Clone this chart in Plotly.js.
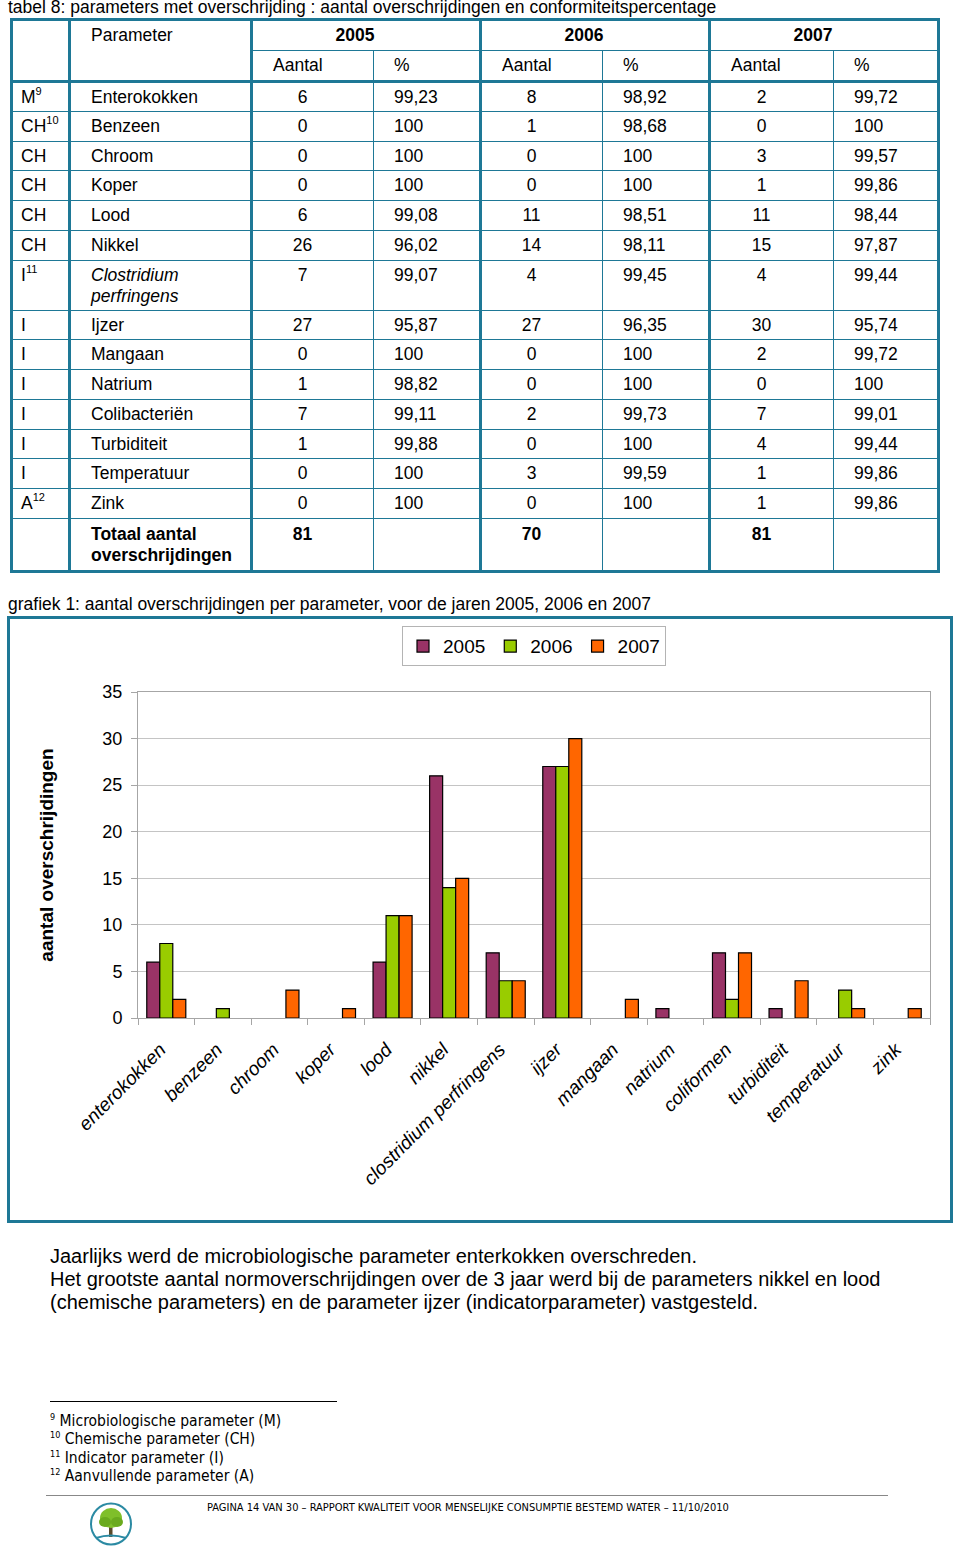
<!DOCTYPE html>
<html>
<head>
<meta charset="utf-8">
<script src="https://cdn.plot.ly/plotly-3.0.1.min.js"></script>
<style>
  html, body { margin:0; padding:0; background:#fff; }
  body { width:960px; height:1546px; position:relative; overflow:hidden; font-family:"Liberation Sans", Arial, sans-serif; color:#000; }
  .abs { position:absolute; white-space:nowrap; }
  #tbl { position:absolute; left:10px; top:18px; border-collapse:collapse; table-layout:fixed; font-size:17.5px; line-height:21px; }
  #tbl td { border:1.5px solid #1e7896; padding:4px 0 0 20px; vertical-align:top; overflow:hidden; white-space:nowrap; }
  #tbl td.num { text-align:center; padding-left:0; padding-right:21px; }
  #tbl td.yr { text-align:center; padding-left:0; padding-right:22px; font-weight:bold; }
  #tbl td.c0 { padding-left:8px; }
  #tbl sup { font-size:11px; line-height:0; position:relative; top:-1px; }
  #chartbox { position:absolute; left:7px; top:616px; width:940px; height:601px; border:3px solid #1e7896; }
  .narrow { font-family:"Liberation Sans Narrow","DejaVu Sans Condensed","Arial Narrow",sans-serif; }
  #fn span.sp { font-size:9px; position:relative; top:-6px; line-height:0; }
</style>
</head>
<body>
<div class="abs" style="left:8px; top:-3px; font-size:17.5px;">tabel 8: parameters met overschrijding : aantal overschrijdingen en conformiteitspercentage</div>
<table id="tbl"></table>

<div class="abs" style="left:8px; top:594px; font-size:17.5px;">grafiek 1: aantal overschrijdingen per parameter, voor de jaren 2005, 2006 en 2007</div>
<div id="chartbox"><div id="chart" style="width:940px;height:601px;"></div></div>

<div class="abs" style="left:50px; top:1245px; font-size:20px; line-height:23px;">Jaarlijks werd de microbiologische parameter enterkokken overschreden.<br>Het grootste aantal normoverschrijdingen over de 3 jaar werd bij de parameters nikkel en lood<br>(chemische parameters) en de parameter ijzer (indicatorparameter) vastgesteld.</div>

<div class="abs" style="left:50px; top:1401px; width:287px; height:0; border-top:1px solid #000;"></div>
<div class="abs narrow" id="fn" style="left:50px; top:1412px; font-size:15.5px; line-height:18.4px;"></div>

<div class="abs" style="left:46px; top:1495px; width:842px; height:0; border-top:1.5px solid #888;"></div>
<div class="abs narrow" style="left:207px; top:1501px; font-size:11px;">PAGINA 14 VAN 30 – RAPPORT KWALITEIT VOOR MENSELIJKE CONSUMPTIE BESTEMD WATER – 11/10/2010</div>
<svg class="abs" style="left:88px; top:1502px;" width="46" height="44" viewBox="0 0 46 44">
  <ellipse cx="23" cy="22" rx="20" ry="20.5" fill="#fff" stroke="#2b8aa3" stroke-width="2"/>
  <rect x="21" y="22" width="3.5" height="13" fill="#5a4a2a"/>
  <ellipse cx="23" cy="16" rx="11" ry="10" fill="#7fbf2a"/>
  <ellipse cx="17" cy="20" rx="6" ry="5" fill="#6aaa1e"/>
  <ellipse cx="29" cy="20" rx="6" ry="5" fill="#6aaa1e"/>
  <path d="M8 36 Q23 31 38 36" stroke="#2b8aa3" stroke-width="2" fill="none"/>
</svg>

<script>
// ---------------- data ----------------
var typeCodes   = ["M","CH","CH","CH","CH","CH","I","I","I","I","I","I","I","A"];
var typeNotes   = ["9","10","","","","","11","","","","","","","12"];
var parameters  = ["Enterokokken","Benzeen","Chroom","Koper","Lood","Nikkel","Clostridium perfringens","Ijzer","Mangaan","Natrium","Colibacteriën","Turbiditeit","Temperatuur","Zink"];
var years       = ["2005","2006","2007"];
var count2005   = [6,0,0,0,6,26,7,27,0,1,7,1,0,0];
var count2006   = [8,1,0,0,11,14,4,27,0,0,2,0,3,0];
var count2007   = [2,0,3,1,11,15,4,30,2,0,7,4,1,1];
var pct2005     = ["99,23","100","100","100","99,08","96,02","99,07","95,87","100","98,82","99,11","99,88","100","100"];
var pct2006     = ["98,92","98,68","100","100","98,51","98,11","99,45","96,35","100","100","99,73","100","99,59","100"];
var pct2007     = ["99,72","100","99,57","99,86","98,44","97,87","99,44","95,74","99,72","100","99,01","99,44","99,86","99,86"];
var totals      = [81,70,81];
var chartCategories = ["enterokokken","benzeen","chroom","koper","lood","nikkel","clostridium perfringens","ijzer","mangaan","natrium","coliformen","turbiditeit","temperatuur","zink"];
var footnotes   = [["9","Microbiologische parameter (M)"],["10","Chemische parameter (CH)"],["11","Indicator parameter (I)"],["12","Aanvullende parameter (A)"]];

// ---------------- table ----------------
var TEAL = "#1e7896";
var colW = [58,182,122,107,122,107,124,105];
var thick = "3px solid " + TEAL;
var counts = [count2005, count2006, count2007];
var pcts = [pct2005, pct2006, pct2007];
var tbl = document.getElementById("tbl");
var html = "<colgroup>" + colW.map(function(w){return '<col style="width:'+w+'px">';}).join("") + "</colgroup>";
html += '<tr style="height:31px"><td class="c0" rowspan="2" style="border-left:'+thick+';border-top:'+thick+';border-right:'+thick+';border-bottom:'+thick+'"></td>'
     + '<td rowspan="2" style="border-top:'+thick+';border-right:'+thick+';border-bottom:'+thick+'">Parameter</td>';
years.forEach(function(y,i){
  html += '<td class="yr" colspan="2" style="border-top:'+thick+';border-right:'+thick+'">'+y+'</td>';
});
html += "</tr>";
html += '<tr style="height:31px">';
years.forEach(function(y,i){
  html += '<td style="border-bottom:'+thick+'">Aantal</td><td style="border-bottom:'+thick+';border-right:'+thick+'">%</td>';
});
html += "</tr>";
for (var r=0; r<parameters.length; r++){
  var h = parameters[r].indexOf(" ")>0 ? 50 : 29.75;
  var name = parameters[r].indexOf(" ")>0 ? "<i>"+parameters[r].replace(" ","<br>")+"</i>" : parameters[r];
  var tcode = typeCodes[r] + (typeNotes[r] ? "<sup>"+typeNotes[r]+"</sup>" : "");
  html += '<tr style="height:'+h+'px"><td class="c0" style="border-left:'+thick+';border-right:'+thick+'">'+tcode+'</td>'
       + '<td style="border-right:'+thick+'">'+name+'</td>';
  for (var y=0; y<3; y++){
    html += '<td class="num">'+counts[y][r]+'</td><td style="border-right:'+thick+'">'+pcts[y][r]+'</td>';
  }
  html += "</tr>";
}
html += '<tr style="height:53px"><td class="c0" style="border-left:'+thick+';border-right:'+thick+';border-bottom:'+thick+'"></td>'
     + '<td style="border-right:'+thick+';border-bottom:'+thick+';font-weight:bold;padding-top:5px">Totaal aantal<br>overschrijdingen</td>';
for (var y=0; y<3; y++){
  html += '<td class="num" style="border-bottom:'+thick+';font-weight:bold;padding-top:5px">'+totals[y]+'</td><td style="border-bottom:'+thick+';border-right:'+thick+'"></td>';
}
html += "</tr>";
tbl.innerHTML = html;

document.getElementById("fn").innerHTML = footnotes.map(function(f){
  return '<span class="sp">'+f[0]+'</span> '+f[1];
}).join("<br>");

// ---------------- chart ----------------
var barColors = ["#993366","#99cc00","#ff6600"];
function nz(arr){ return arr.map(function(v){ return v===0 ? null : v; }); }
var traces = years.map(function(y,i){
  return {
    type:"bar", name:y, x:chartCategories, y:nz(counts[i]),
    marker:{color:barColors[i], line:{color:"#000", width:1.2}},
    hoverinfo:"skip"
  };
});
var FONT = "Liberation Sans, Arial, sans-serif";
var layout = {
  width:940, height:601,
  margin:{l:128, r:20, t:73, b:202},
  paper_bgcolor:"#fff", plot_bgcolor:"#fff",
  font:{family:FONT, color:"#000"},
  barmode:"group", bargap:0.31, bargroupgap:0,
  showlegend:true,
  legend:{orientation:"h", x:0.5, xanchor:"center", yref:"container", y:0.988, yanchor:"top",
          bordercolor:"#b4b4b4", borderwidth:1, font:{size:19, family:FONT},
          itemwidth:30, tracegroupgap:0},
  xaxis:{type:"category", showgrid:false, showline:true, linecolor:"#a6a6a6", linewidth:1, mirror:true,
         ticks:"outside", tickson:"boundaries", ticklen:6, tickcolor:"#a6a6a6",
         ticklabelstandoff:12, ticklabelshift:-6,
         tickangle:-45, tickfont:{size:19, style:"italic", family:FONT}, automargin:false},
  yaxis:{range:[0,35], dtick:5, showgrid:true, gridcolor:"#c4c4c4", gridwidth:1,
         showline:true, linecolor:"#a6a6a6", mirror:true, zeroline:false,
         ticks:"outside", ticklen:6, tickcolor:"#a6a6a6", ticklabelstandoff:5,
         tickfont:{size:18, family:FONT},
         title:{text:"aantal overschrijdingen", font:{size:19, family:FONT, weight:"bold"}, standoff:43},
         automargin:false}
};
Plotly.newPlot("chart", traces, layout, {displayModeBar:false, staticPlot:true});
</script>
</body>
</html>
